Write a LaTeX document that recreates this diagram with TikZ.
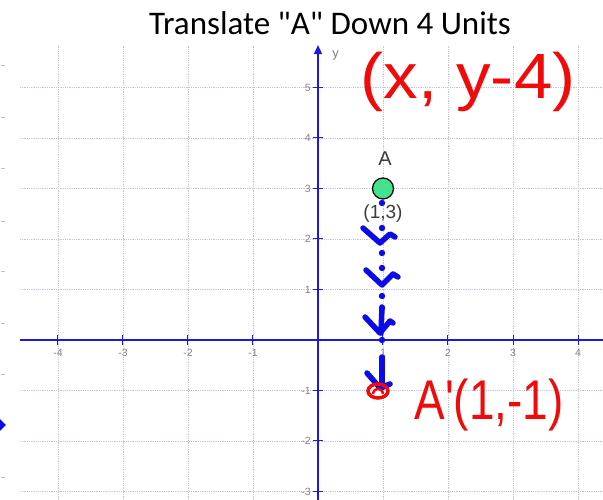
\documentclass[tikz,border=0pt]{standalone}
\usepackage{fontspec}
\setmainfont{Liberation Sans}
\newfontfamily\titlefont{Carlito}
\usetikzlibrary{arrows.meta}

\definecolor{gridblue}{RGB}{195,195,240}
\definecolor{axisblue}{RGB}{25,25,225}
\definecolor{inkblue}{RGB}{10,10,235}
\definecolor{inkred}{RGB}{240,10,10}
\definecolor{pointgreen}{RGB}{70,225,140}
\definecolor{labelgray}{RGB}{60,60,60}

\begin{document}
\begin{tikzpicture}[x=65pt, y=50.5pt, every node/.style={inner sep=0pt}, gridline/.style={gridblue, densely dotted, line width=0.8pt}, axis/.style={axisblue, line width=1.6pt}, ticklabel/.style={text=gray, font=\fontsize{10.5}{10.5}\selectfont}, pen/.style={inkblue, line width=5.5pt, line cap=round, line join=round}, redink/.style={text=inkred, font=\fontsize{64}{64}\selectfont}]
\fill[white] (-318pt,-160pt) rectangle (285pt,340pt);
\useasboundingbox (-318pt,-160pt) rectangle (285pt,340pt);
% grid
\foreach \gx in {-4,...,4} \draw[gridline] (\gx,-3.17) -- (\gx,5.84);
\foreach \gy in {-3,...,5} \draw[gridline] (-4.585,\gy) -- (4.385,\gy);
% axes
\draw[axis] (-4.585,0) -- (4.385,0);
\draw[axis, -{Triangle[length=9pt,width=8pt]}] (0,-3.17) -- (0,5.84);
\node[text=gray, font=\fontsize{13}{13}\selectfont] (ylab) at (0.27,5.64) {y};
\foreach \tx in {-4,-3,-2,-1,1,2,3,4} {
  \draw[axisblue, line width=1pt] ([yshift=-5pt]\tx,0) -- ([yshift=5pt]\tx,0);
  \node[ticklabel] (xt\tx) at ([yshift=-13pt]\tx,0) {\tx};
}
\foreach \ty in {-3,-2,-1,1,2,3,4,5} {
  \draw[axisblue, line width=1pt] ([xshift=-5pt]0,\ty) -- ([xshift=5pt]0,\ty);
  \node[ticklabel, anchor=east] (yt\ty) at ([xshift=-7pt]0,\ty) {\ty};
}
% point A
\node[circle, draw=black, fill=pointgreen, line width=1.2pt, minimum size=21pt] (ptA) at (1,3) {};
\node[text=labelgray, font=\fontsize{20}{20}\selectfont] (labA) at (1.03,3.6) {A};
\node[text=labelgray, font=\fontsize{19}{19}\selectfont] (coordA) at (1,2.5) {(1,3)};
% hand marks
\begin{scope}[x=1pt, y=-1pt, shift={(-318pt,340pt)}]
\foreach \dy in {203,228,253,268,296,308,340} \fill[inkblue] (382,\dy) circle (3.2pt);
\draw[pen] (363,228) -- (380,243) -- (390,234) -- (395,237);
\draw[pen] (366,270) -- (382,285) -- (393,274) -- (398,277);
\draw[pen] (382,307) -- (381,333);
\draw[pen] (365,317) -- (380,333) -- (390,321) -- (393,323);
\draw[pen] (382,357) -- (382,388);
\draw[pen] (367,373) -- (380,388) -- (390,384);
\draw[inkred, line width=3.5pt] (378,391) ellipse (10pt and 7pt);
\draw[inkred, line width=2.5pt] (373,394) .. controls (374,387) and (382,387) .. (383,394);
\foreach \ay in {65,117,168,221,271,323,374,477} \draw[gray!50, line width=0.8pt] (1,\ay) -- (5,\ay);
\fill[inkblue] (-6,425) -- (0,419) -- (6,425) -- (0,431) -- cycle;
\node[font=\titlefont\fontsize{33}{33}\selectfont] (title) at (330,23) {Translate "A" Down 4 Units};
\node[redink] (rule) at (468,82) {\scalebox{1.08}[1]{(x, y-4)}};
\node[redink, font=\fontsize{56}{56}\selectfont] (image) at (489,405) {\scalebox{0.82}[1]{A\textquotesingle(1,-1)}};
\end{scope}
\end{tikzpicture}
\end{document}
